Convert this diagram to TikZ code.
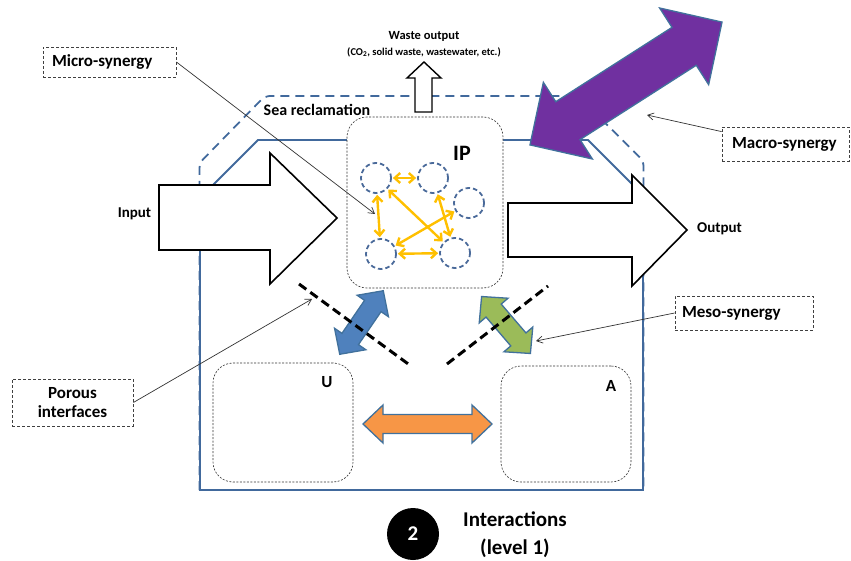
\documentclass[tikz,border=0pt]{standalone}
\usepackage{fontspec}
\setmainfont{Carlito}
\usetikzlibrary{arrows.meta,calc}
\definecolor{boxblue}{HTML}{41699C}
\definecolor{arrowedge}{HTML}{41719C}
\definecolor{macropurple}{HTML}{7030A0}
\definecolor{mesoblue}{HTML}{4F81BD}
\definecolor{mesogreen}{HTML}{9BBB59}
\definecolor{mesoorange}{HTML}{F79646}
\definecolor{microyellow}{HTML}{FFC000}
\definecolor{circblue}{HTML}{4A6A9A}
% double block arrow: #1 style, #2 cx, #3 cy, #4 angle, #5 half length, #6 half shaft, #7 half head, #8 head length
\newcommand{\blockdbl}[8]{%
  \draw[#1, shift={(#2,#3)}, rotate=#4]
    (-#5,0) -- (-#5+#8,#7) -- (-#5+#8,#6) -- (#5-#8,#6) -- (#5-#8,#7) -- (#5,0)
    -- (#5-#8,-#7) -- (#5-#8,-#6) -- (-#5+#8,-#6) -- (-#5+#8,-#7) -- cycle;}
\begin{document}
\begin{tikzpicture}[x=1pt,y=-1pt,
  lbl/.style={draw=black!75, dash pattern=on 3pt off 2pt, line width=0.8pt, fill=white,
    font=\fontsize{17}{19}\selectfont\bfseries, inner ysep=0pt, align=left},
  softbox/.style={draw=black!80, dash pattern=on 2pt off 1.5pt, line width=0.6pt, fill=white,
    rounded corners=20pt, inner sep=0pt},
  cir/.style={circle, draw=circblue, line width=1.8pt, dash pattern=on 4.5pt off 3pt,
    minimum size=30pt, inner sep=0pt},
  yarrow/.style={draw=microyellow, line width=2.4pt, shorten <=1pt, shorten >=1pt,
    {Straight Barb[length=5.5pt,width=10pt]}-{Straight Barb[length=5.5pt,width=10pt]}},
  leader/.style={draw=black!80, line width=0.7pt, -{Straight Barb[length=6pt,width=7pt]}},
  blockarrow/.style={draw=black, line width=1.6pt, fill=white, line join=miter},
  fatarrow/.style={draw=arrowedge, line width=1.3pt, line join=miter},
  porous/.style={draw=black, line width=3pt, dash pattern=on 9pt off 5pt},
  txt/.style={font=\fontsize{15}{18}\selectfont\bfseries, inner sep=0pt}
]
\useasboundingbox (0,0) rectangle (851,561);

% Sea reclamation outline (dashed) and system boundary (solid)
\draw[boxblue, line width=1.8pt, dash pattern=on 9pt off 6pt, rounded corners=5pt]
  (199.5,490) -- (199.5,163) -- (265,96) -- (578,96) -- (643.5,161) -- (643.5,490);
\draw[boxblue, line width=1.8pt, line join=miter]
  (200,490) -- (200,198) -- (258,140) -- (588,140) -- (643,195) -- (643,490) -- cycle;
\node[txt, font=\fontsize{16}{18}\selectfont\bfseries] (sea) at (317,110) {Sea reclamation};

% waste output
\draw[blockarrow, line width=1.4pt] (415,112) -- (415,78) -- (407,78) -- (424,62) -- (441,78) -- (432,78) -- (432,112) -- cycle;
\node[txt, font=\fontsize{12.5}{14}\selectfont\bfseries] (waste) at (424,36) {Waste output};
\node[txt, font=\fontsize{10.5}{12}\selectfont\bfseries] (waste2) at (424,52) {(CO\textsubscript{2}, solid waste, wastewater, etc.)};

% IP box
\node[softbox, minimum width=156pt, minimum height=171pt] (ip) at (425,202.5) {};
\node[txt, font=\fontsize{22}{24}\selectfont\bfseries] (iplabel) at (462,153) {IP};

% input / output
\draw[blockarrow] (159,185) -- (270,185) -- (270,153) -- (337,218) -- (270,284) -- (270,250) -- (159,250) -- cycle;
\node[txt] (input) at (134.5,214) {Input};
\draw[blockarrow] (508,203) -- (632,203) -- (632,175) -- (687,230) -- (632,286) -- (632,257) -- (508,257) -- cycle;
\node[txt] (output) at (719.5,229) {Output};

% macro-synergy arrow
\blockdbl{fatarrow, fill=macropurple}{626}{83.5}{32.6}{114}{22.5}{45.5}{45}

% micro-synergy network
\node[cir] (c1) at (376,178) {};
\node[cir] (c2) at (433,178) {};
\node[cir] (c3) at (469,203) {};
\node[cir] (c4) at (381,254) {};
\node[cir] (c5) at (455,253) {};
\draw[yarrow] (c1) -- (c2);
\draw[yarrow] (c1) -- (c4);
\draw[yarrow] (c1) -- (c5);
\draw[yarrow] (c2) -- (c5);
\draw[yarrow] (c3) -- (c4);
\draw[yarrow] (c4) -- (c5);

% U and A
\node[softbox, minimum width=140pt, minimum height=119pt] (u) at (283,422.5) {};
\node[txt, font=\fontsize{17}{19}\selectfont\bfseries] (ulabel) at (327,382) {U};
\node[softbox, minimum width=130pt, minimum height=116pt] (a) at (566,424) {};
\node[txt, font=\fontsize{17}{19}\selectfont\bfseries] (alabel) at (611,386) {A};

% meso-synergy arrows
\blockdbl{fatarrow, fill=mesoblue}{361.5}{322.5}{55.6}{38.5}{10}{19}{18.5}
\blockdbl{fatarrow, fill=mesogreen}{506}{325}{-49.4}{37.5}{10}{19}{18.5}
\blockdbl{fatarrow, fill=mesoorange}{427.5}{424}{0}{64.5}{9.5}{19}{20}

% porous interfaces
\draw[porous] (299,284) -- (411,366);
\draw[porous] (447,364) -- (548,286);

% labels
\node[lbl, inner xsep=9pt, text width=115pt, minimum height=30pt] (micro) at (109.5,62) {Micro-synergy};
\node[lbl, inner xsep=10pt, text width=107pt, minimum height=34pt] (macro) at (785.5,144) {Macro-synergy};
\node[lbl, inner xsep=7pt, text width=124pt, minimum height=34pt] (meso) at (744,313) {Meso-synergy};
\node[lbl, inner xsep=0pt, text width=121pt, minimum height=47pt, align=center] (porousbox) at (72.5,402.5) {Porous\\interfaces};

\coordinate (microtip) at (375,214);
\coordinate (macrotip) at (647,115);
\coordinate (mesotip) at (536,341);
\coordinate (poroustip) at (312,299);
\draw[leader] (micro.east) -- (microtip);
\draw[leader] ($(macro.north west)+(0,5)$) -- (macrotip);
\draw[leader] (meso.west) -- (mesotip);
\draw[leader] (porousbox.east) -- (poroustip);

% level badge
\node[circle, fill=black, minimum size=52pt, inner sep=0pt, text=white,
  font=\fontsize{21}{24}\selectfont\bfseries] (two) at (413,534) {2};
\node[txt, font=\fontsize{21}{28}\selectfont\bfseries, align=center] (inter) at (515,535) {Interactions\\(level 1)};
\end{tikzpicture}
\end{document}
